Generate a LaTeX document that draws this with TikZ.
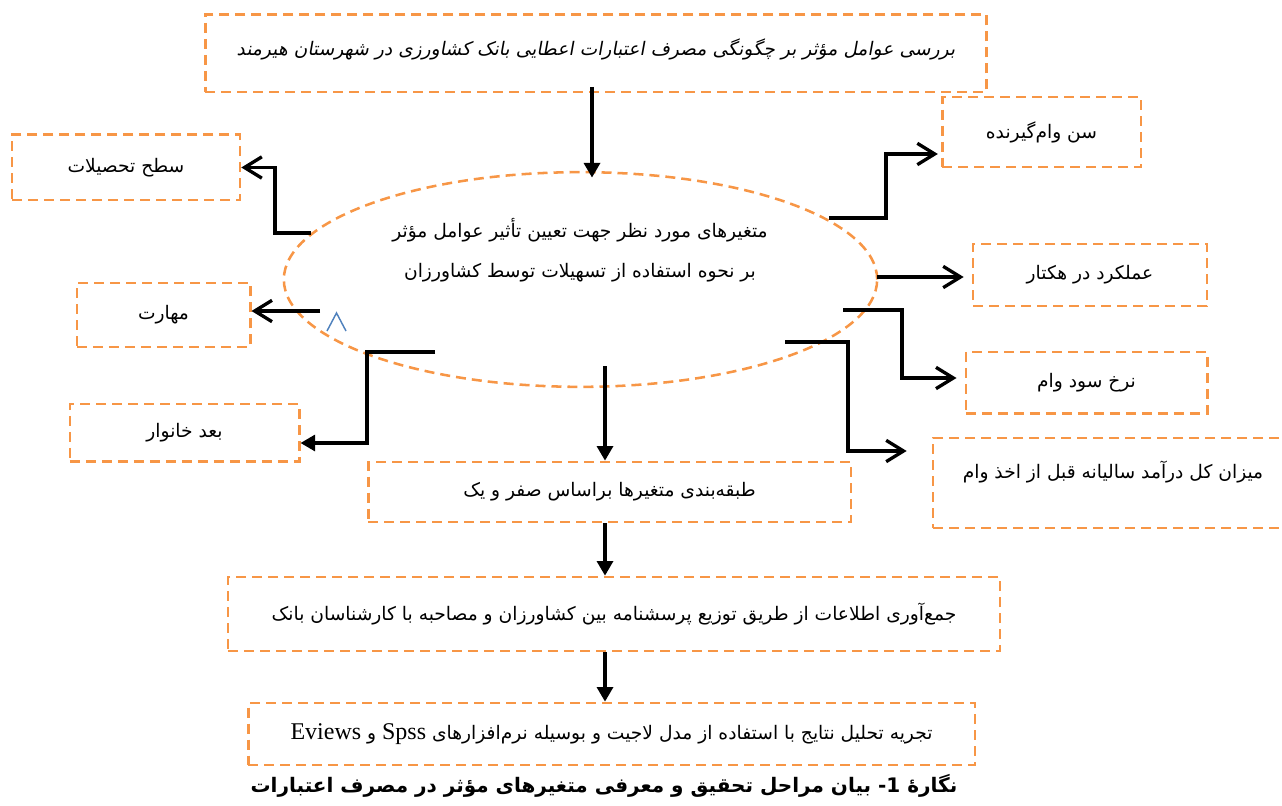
\documentclass[tikz,border=0pt]{standalone}
\usepackage{fontspec}
\setmainfont{Liberation Serif}
\newfontfamily\fa[Script=Arabic]{DejaVu Sans}
\newfontfamily\faslant[Script=Arabic,FakeSlant=0.18]{DejaVu Sans}
\newfontfamily\latin{Liberation Serif}
\TeXXeTstate=1
\usepackage{tikz}
\usetikzlibrary{positioning,arrows.meta,shapes.geometric,calc}
\definecolor{dashorange}{HTML}{F79646}
\definecolor{caretblue}{HTML}{4F81BD}

\begin{document}
\begin{tikzpicture}[
  x=0.75pt, y=-0.75pt,
  every node/.style={align=center, font=\fa\fontsize{14}{16}\selectfont},
  stage/.style={
    rectangle, draw=dashorange, line width=2pt, dash pattern=on 7.5pt off 4.5pt,
    inner sep=2pt
  },
  hub/.style={
    ellipse, draw=dashorange, line width=1.9pt, dash pattern=on 7.5pt off 4.5pt,
    inner sep=0pt
  },
  branch/.style={-{Straight Barb[length=13pt,width=16pt]}, line width=2.5pt, line join=miter},
  down/.style={-{Triangle[length=11pt,width=12pt]}, line width=2.5pt, line join=miter},
]
\useasboundingbox (0,0) rectangle (1282,806);
\clip (0,0) rectangle (1282,806);

% Title of the study
\node[stage, minimum width=586pt, minimum height=58pt, text depth=10pt,
      font=\faslant\fontsize{14}{16}\selectfont] (topic) at (596,53.5)
  {\beginR بررسی عوامل مؤثر بر چگونگی مصرف اعتبارات اعطایی بانک کشاورزی در شهرستان هیرمند\endR};

% Central ellipse with the variables
\node[hub, minimum width=445pt, minimum height=161pt] (vars) at (580.5,279.5) {};
\node[font=\fa\fontsize{14}{30}\selectfont] (varsText) at (580,250)
  {\beginR متغیرهای مورد نظر جهت تعیین تأثیر عوامل مؤثر\endR\\
   \beginR بر نحوه استفاده از تسهیلات توسط کشاورزان\endR};

% Left factors
\node[stage, minimum width=171pt, minimum height=49pt] (edu)    at (126,167.5) {\beginR سطح تحصیلات\endR};
\node[stage, minimum width=130pt, minimum height=48pt] (skill)  at (163.5,315) {\beginR مهارت\endR};
\node[stage, minimum width=172pt, minimum height=43pt] (family) at (184.5,432.5) {\beginR بعد خانوار\endR};

% Right factors
\node[stage, minimum width=149pt, minimum height=52.5pt] (age)    at (1041.5,132) {\beginR سن وام^^^^200cگیرنده\endR};
\node[stage, minimum width=175.5pt, minimum height=46.5pt] (yield) at (1090,275) {\beginR عملکرد در هکتار\endR};
\node[stage, minimum width=181pt, minimum height=46pt] (rate)     at (1086.5,382.5) {\beginR نرخ سود وام\endR};
\node[stage, minimum width=270pt, minimum height=67.5pt, text depth=20pt] (income) at (1113,483)
  {\beginR میزان کل درآمد سالیانه قبل از اخذ وام\endR};

% Steps below
\node[stage, minimum width=362pt, minimum height=45pt] (class) at (609.5,492)
  {\beginR طبقه^^^^200cبندی متغیرها براساس صفر و یک\endR};
\node[stage, minimum width=579pt, minimum height=55.5pt] (collect) at (614,614)
  {\beginR جمع^^^^200cآوری اطلاعات از طریق  توزیع پرسشنامه بین کشاورزان و مصاحبه با کارشناسان بانک\endR};
\node[stage, minimum width=545pt, minimum height=46.5pt] (analysis) at (611.5,734)
  {\beginR تجریه تحلیل نتایج با استفاده از مدل لاجیت و بوسیله نرم^^^^200cافزارهای \beginL{\latin\fontsize{18}{18}\selectfont Spss}\endL{} و \beginL{\latin\fontsize{18}{18}\selectfont Eviews}\endL\endR};

\node[font=\fa\bfseries\fontsize{15}{17}\selectfont] (caption) at (604,786)
  {\beginR نگاره^^^^0654 1- بیان مراحل تحقیق و معرفی متغیرهای مؤثر در مصرف اعتبارات\endR};

% Start points on the ellipse
\coordinate (eduFrom)    at (311,233);
\coordinate (skillFrom)  at (320,311);
\coordinate (famFrom)    at (435,352);
\coordinate (ageFrom)    at (829,218);
\coordinate (yieldFrom)  at (877,277);
\coordinate (rateFrom)   at (843,310);
\coordinate (incFrom)    at (785,342);
\coordinate (classFrom)  at (605,366);

% Connectors
\draw[down] ([xshift=-3pt,yshift=5pt]topic.south) -- ([xshift=-3pt,yshift=-5pt]topic.south |- vars.north);
\draw[branch] (eduFrom) -- ++(-36,0) |- (edu.east);
\draw[branch] (skillFrom) -- (skillFrom -| skill.east);
\draw[down] (famFrom) -- ++(-68,0) |- ($(family.east)+(0,10.5)$);
\draw[branch] (ageFrom) -- ++(57,0) |- ($(age.west)+(-3,22)$);
\draw[branch] (yieldFrom) -- ($(yield.west)+(-8,2)$);
\draw[branch] (rateFrom) -- ++(59,0) |- ($(rate.west)+(-8,-4.5)$);
\draw[branch] (incFrom) -- ++(63,0) |- ($(income.west)+(-25,-32)$);
\draw[down] (classFrom) -- (classFrom |- class.north);
\draw[down] (class.south -| classFrom) -- (collect.north -| classFrom);
\draw[down] (collect.south -| classFrom) -- (analysis.north -| classFrom);

% Blue mark left of the ellipse
\draw[caretblue, line width=1.1pt] (327,331) -- (336.5,313) -- (346,331);
\end{tikzpicture}
\end{document}
